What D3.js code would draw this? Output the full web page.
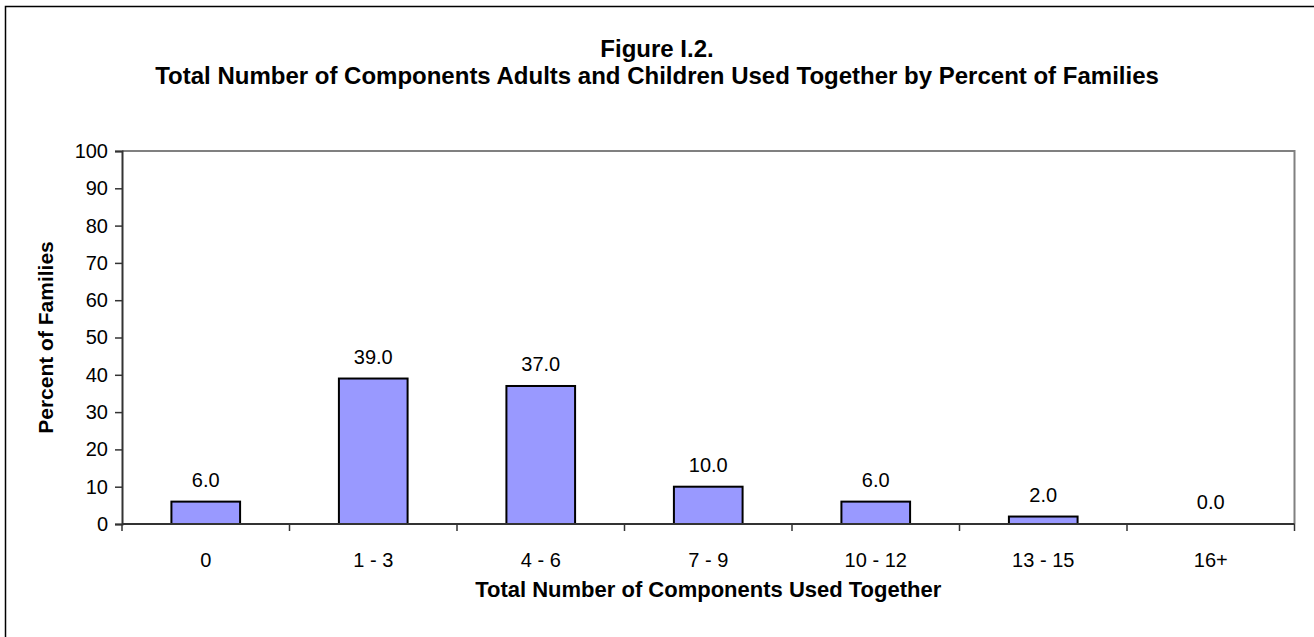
<!DOCTYPE html>
<html>
<head>
<meta charset="utf-8">
<script src="https://cdn.jsdelivr.net/npm/d3@7"></script>
<style>
  html, body { margin: 0; padding: 0; background: #fff; }
  svg { display: block; }
  text { font-family: "Liberation Sans", Arial, sans-serif; fill: #000; }
</style>
</head>
<body>
<svg id="chart" width="1314" height="637"></svg>
<script>
const categories = ["0", "1 - 3", "4 - 6", "7 - 9", "10 - 12", "13 - 15", "16+"];
const values = [6.0, 39.0, 37.0, 10.0, 6.0, 2.0, 0.0];
const yTicks = [0, 10, 20, 30, 40, 50, 60, 70, 80, 90, 100];
const titleLines = ["Figure I.2.", "Total Number of Components Adults and Children Used Together by Percent of Families"];
const xTitle = "Total Number of Components Used Together";
const yTitle = "Percent of Families";

const W = 1314, H = 637;
const svg = d3.select("#chart");

// outer frame
svg.append("rect")
  .attr("x", 5.5).attr("y", 6.5)
  .attr("width", 1320).attr("height", 660)
  .attr("fill", "#fff").attr("stroke", "#000").attr("stroke-width", 1.5);

const plot = { left: 122, right: 1294.5, top: 151, bottom: 524 };

const x = d3.scaleBand().domain(categories).range([plot.left, plot.right]).padding(0);
const y = d3.scaleLinear().domain([0, 100]).range([plot.bottom, plot.top]);

// plot frame: top and right gray
svg.append("path")
  .attr("d", `M${plot.left},${plot.top}H${plot.right}V${plot.bottom}`)
  .attr("fill", "none").attr("stroke", "#808080").attr("stroke-width", 2);

// title
svg.append("g").selectAll("text").data(titleLines).join("text")
  .attr("x", W / 2)
  .attr("y", (d, i) => 57 + i * 27)
  .attr("text-anchor", "middle")
  .attr("font-size", 24).attr("font-weight", "bold")
  .text(d => d);

// bars
const barW = x.bandwidth() * 0.41;
svg.append("g").selectAll("rect").data(values).join("rect")
  .attr("x", (d, i) => x(categories[i]) + x.bandwidth() / 2 - barW / 2)
  .attr("y", d => y(d))
  .attr("width", barW)
  .attr("height", d => y(0) - y(d))
  .attr("fill", "#9999FF")
  .attr("stroke", "#000").attr("stroke-width", 2);

// value labels
svg.append("g").selectAll("text").data(values).join("text")
  .attr("x", (d, i) => x(categories[i]) + x.bandwidth() / 2)
  .attr("y", d => y(d) - 15)
  .attr("text-anchor", "middle")
  .attr("font-size", 20)
  .text(d => d.toFixed(1));

// y axis
const yAxis = svg.append("g")
  .attr("transform", `translate(${plot.left},0)`)
  .call(d3.axisLeft(y).tickValues(yTicks).tickSize(7).tickPadding(7).tickFormat(d3.format("d")));
yAxis.select(".domain").attr("stroke", "#333").attr("stroke-width", 2);
yAxis.selectAll(".tick line").attr("stroke", "#333").attr("stroke-width", 1.5);
yAxis.selectAll(".tick text").attr("font-size", 20).attr("font-family", "Liberation Sans, Arial, sans-serif").attr("fill", "#000");

// x axis: ticks at category boundaries
const boundaries = categories.map(c => x(c)).concat([x(categories[categories.length - 1]) + x.bandwidth()]);
const xg = svg.append("g");
xg.append("line")
  .attr("x1", plot.left).attr("x2", plot.right)
  .attr("y1", plot.bottom).attr("y2", plot.bottom)
  .attr("stroke", "#333").attr("stroke-width", 2);
xg.selectAll("line.tk").data(boundaries).join("line").attr("class", "tk")
  .attr("x1", d => d).attr("x2", d => d)
  .attr("y1", plot.bottom).attr("y2", plot.bottom + 7)
  .attr("stroke", "#333").attr("stroke-width", 1.5);
xg.selectAll("text").data(categories).join("text")
  .attr("x", d => x(d) + x.bandwidth() / 2)
  .attr("y", 567)
  .attr("text-anchor", "middle")
  .attr("font-size", 20)
  .text(d => d);

// axis titles
svg.append("text")
  .attr("x", (plot.left + plot.right) / 2)
  .attr("y", 597)
  .attr("text-anchor", "middle")
  .attr("font-size", 22).attr("font-weight", "bold")
  .text(xTitle);

svg.append("text")
  .attr("transform", `translate(53,${(plot.top + plot.bottom) / 2}) rotate(-90)`)
  .attr("text-anchor", "middle")
  .attr("font-size", 21).attr("font-weight", "bold")
  .text(yTitle);
</script>
</body>
</html>
